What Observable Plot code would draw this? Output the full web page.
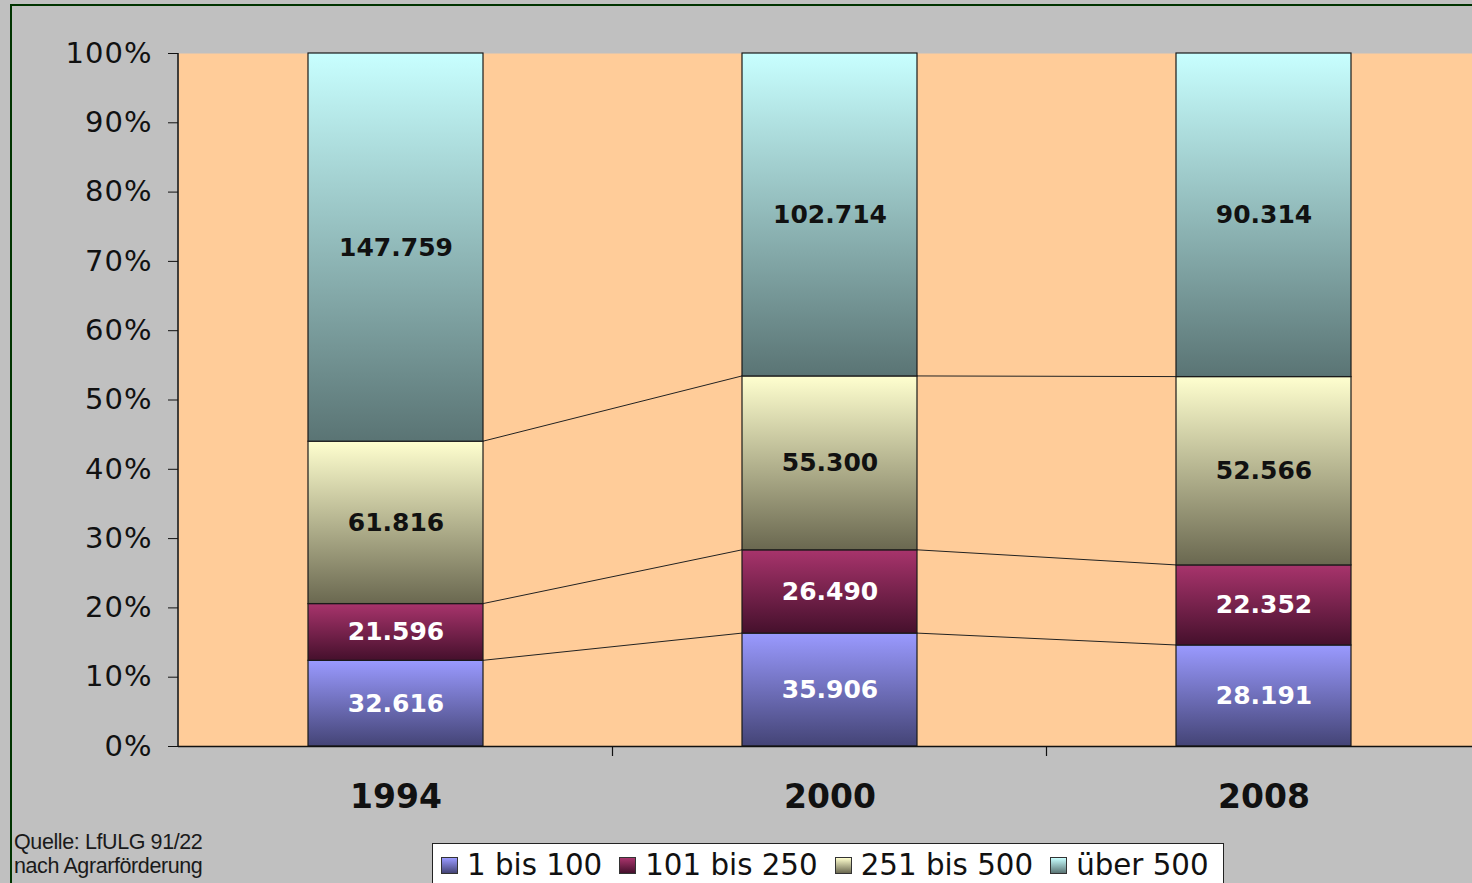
<!DOCTYPE html>
<html><head><meta charset="utf-8">
<script src="https://cdn.jsdelivr.net/npm/d3@7"></script>
<script src="https://cdn.jsdelivr.net/npm/@observablehq/plot@0.6"></script>
<style>
html,body{margin:0;padding:0;width:1472px;height:883px;overflow:hidden;background:#c0c0c0;}
#frame{position:absolute;left:10px;top:4px;width:1500px;height:900px;border-left:2px solid #003300;border-top:2px solid #003300;box-sizing:border-box;}
#chart{position:absolute;left:0;top:0;}
#chart [aria-label^="y-axis"] text{font-size:29px;font-weight:normal;letter-spacing:1px;}
#chart [aria-label^="x-axis"] text{font-size:33px;font-weight:bold;}
#source{position:absolute;left:14px;top:830px;font-family:"Liberation Sans",Arial,sans-serif;font-size:21.5px;line-height:24px;color:#1a1a1a;letter-spacing:-0.4px;}
#legend{position:absolute;left:432px;top:843px;width:792px;height:50px;background:#fff;border:1px solid #222;box-sizing:border-box;display:flex;align-items:flex-start;padding-top:3px;padding-left:8px;font-family:"DejaVu Sans",sans-serif;font-size:29.3px;color:#111;white-space:nowrap;}
#legend .item{display:flex;align-items:center;margin-right:17px;height:36px;}
#legend .sw{width:17px;height:17px;border:1px solid #333;margin-right:9px;box-sizing:border-box;}
</style>
</head><body>
<svg width="0" height="0" style="position:absolute">
  <defs>
    <linearGradient id="g0" x1="0" y1="0" x2="0" y2="1"><stop offset="0" stop-color="#9a9aff"/><stop offset="1" stop-color="#444476"/></linearGradient>
    <linearGradient id="g1" x1="0" y1="0" x2="0" y2="1"><stop offset="0" stop-color="#a8346c"/><stop offset="1" stop-color="#45102c"/></linearGradient>
    <linearGradient id="g2" x1="0" y1="0" x2="0" y2="1"><stop offset="0" stop-color="#ffffcf"/><stop offset="1" stop-color="#6a6850"/></linearGradient>
    <linearGradient id="g3" x1="0" y1="0" x2="0" y2="1"><stop offset="0" stop-color="#c8ffff"/><stop offset="1" stop-color="#5a7474"/></linearGradient>
  </defs>
</svg>
<div id="frame"></div>
<div id="chart"></div>
<div id="source">Quelle: LfULG 91/22<br>nach Agrarförderung</div>
<div id="legend"></div>
<script>
// ---- data ----
const years = ["1994", "2000", "2008"];
const seriesNames = ["1 bis 100", "101 bis 250", "251 bis 500", "über 500"];
const vals1to100 = [32616, 35906, 28191];
const vals101to250 = [21596, 26490, 22352];
const vals251to500 = [61816, 55300, 52566];
const valsOver500 = [147759, 102714, 90314];
const yTicks = [0, 0.1, 0.2, 0.3, 0.4, 0.5, 0.6, 0.7, 0.8, 0.9, 1];

// ---- styling ----
const gradients = ["url(#g0)", "url(#g1)", "url(#g2)", "url(#g3)"];
const gradTop = ["#9a9aff", "#a8346c", "#ffffcf", "#c8ffff"];
const gradBottom = ["#444476", "#45102c", "#6a6850", "#5a7474"];
const labelColors = ["white", "white", "#111", "#111"];
const de = d3.formatLocale({decimal: ",", thousands: ".", grouping: [3], currency: ["", "€"]});
const fmt = de.format(",");

const seriesVals = [vals1to100, vals101to250, vals251to500, valsOver500];
const rows = [];
years.forEach((year, i) => {
  const total = d3.sum(seriesVals, s => s[i]);
  let cum = 0;
  seriesVals.forEach((s, si) => {
    const y1 = cum / total;
    cum += s[i];
    const y2 = cum / total;
    rows.push({year, si, series: seriesNames[si], value: s[i], y1, y2, ym: (y1 + y2) / 2});
  });
});

function decorations(index, scales, values, dims) {
  const x = scales.x, y = scales.y;
  const bw = typeof x.bandwidth === "function" ? x.bandwidth() : x.bandwidth;
  const step = x(years[1]) - x(years[0]);
  const g = d3.create("svg:g");
  const x0 = dims.marginLeft, yb = dims.height - dims.marginBottom, yt = dims.marginTop;
  // connectors between stacked boundaries
  for (let i = 0; i < years.length - 1; i++) {
    for (let si = 0; si < 3; si++) {
      const a = rows.find(r => r.year === years[i] && r.si === si);
      const b = rows.find(r => r.year === years[i + 1] && r.si === si);
      g.append("line").attr("x1", x(years[i]) + bw).attr("x2", x(years[i + 1]))
        .attr("y1", y(a.y2)).attr("y2", y(b.y2))
        .attr("stroke", "#222").attr("stroke-width", 1);
    }
  }
  // category boundary ticks
  for (let i = 0; i < years.length; i++) {
    const xb = x(years[i]) + bw + (step - bw) / 2;
    g.append("line").attr("x1", xb).attr("x2", xb).attr("y1", yb).attr("y2", yb + 10)
      .attr("stroke", "#111").attr("stroke-width", 1.2);
  }
  // left axis line
  g.append("line").attr("x1", x0).attr("x2", x0).attr("y1", yt).attr("y2", yb)
    .attr("stroke", "#111").attr("stroke-width", 1.5);
  return g.node();
}

const marks = [
  Plot.frame({fill: "#ffcc99", stroke: null}),
  ...seriesNames.map((s, si) => Plot.barY(rows.filter(r => r.si === si), {
    x: "year", y1: "y1", y2: "y2", fill: gradients[si], stroke: "#1a1a1a", strokeWidth: 1.2
  })),
  decorations,
  Plot.ruleY([0], {stroke: "#111", strokeWidth: 1.5}),
  ...seriesNames.map((s, si) => Plot.text(rows.filter(r => r.si === si), {
    x: "year", y: "ym", text: d => fmt(d.value), fill: labelColors[si],
    fontSize: 25, fontWeight: "bold", fontFamily: "DejaVu Sans"
  }))
];

const chart = Plot.plot({
  width: 1480,
  height: 830,
  marginLeft: 178,
  marginRight: 0,
  marginTop: 53,
  marginBottom: 84,
  style: {background: "transparent", overflow: "visible", maxWidth: "none", fontFamily: "DejaVu Sans", color: "#111"},
  x: {domain: years, paddingInner: 0.597, paddingOuter: 0.2985, align: 0.5, tickSize: 0, tickPadding: 38, label: null},
  y: {domain: [0, 1], ticks: yTicks, tickFormat: d3.format(".0%"), tickSize: 10, tickPadding: 16, label: null},
  marks
});
document.getElementById("chart").appendChild(chart);

const legend = d3.select("#legend");
seriesNames.forEach((s, si) => {
  const it = legend.append("div").attr("class", "item");
  it.append("div").attr("class", "sw").style("background", `linear-gradient(${gradTop[si]}, ${gradBottom[si]})`);
  it.append("span").text(s);
});
</script>
</body></html>
